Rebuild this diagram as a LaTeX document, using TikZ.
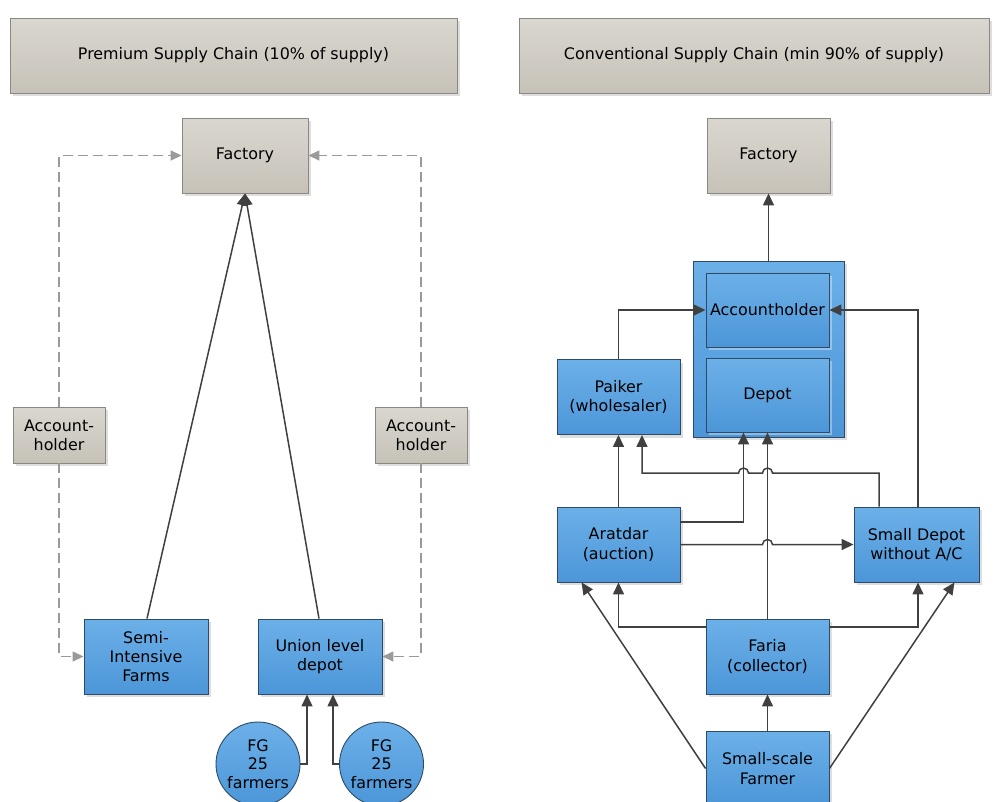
\documentclass[tikz,border=0pt]{standalone}
\usepackage{fontspec}
\setmainfont{DejaVu Sans}
\usetikzlibrary{arrows.meta,shadows,calc}
\definecolor{bluetop}{HTML}{6CB0E8}
\definecolor{bluebot}{HTML}{4C96D8}
\definecolor{blueline}{HTML}{2E4A66}
\definecolor{graytop}{HTML}{DAD7D0}
\definecolor{graybot}{HTML}{C6C2B8}
\definecolor{grayline}{HTML}{8A8882}
\definecolor{conn}{HTML}{404040}
\definecolor{dashc}{HTML}{9A9A9A}
\begin{document}
\begin{tikzpicture}[x=1pt,y=-1pt,
  shad/.style={drop shadow={shadow xshift=3pt,shadow yshift=-3pt,fill=black!13,opacity=1}},
  ishad/.style={drop shadow={shadow xshift=3pt,shadow yshift=-3pt,fill=white,opacity=0.35}},
  txt/.style={font=\fontsize{15.9}{19.3}\selectfont,align=center,text=black},
  bluebox/.style={txt,draw=blueline,line width=0.9pt,top color=bluetop,bottom color=bluebot,
    minimum width=123pt,minimum height=75pt,inner sep=0pt,shad},
  innerbox/.style={txt,draw=blueline,line width=0.9pt,top color=bluetop,bottom color=bluebot,
    minimum width=123pt,minimum height=74pt,inner sep=0pt,ishad},
  graybox/.style={txt,draw=grayline,line width=0.9pt,top color=graytop,bottom color=graybot,
    inner sep=0pt,shad},
  fgcirc/.style={txt,circle,draw=blueline,line width=0.9pt,top color=bluetop,bottom color=bluebot,
    minimum size=84pt,inner sep=0pt,font=\fontsize{15.9}{18.3}\selectfont},
  arr/.style={draw=conn,line width=1.5pt,-{Triangle[length=12pt,width=11pt]},fill=none},
  darr/.style={draw=dashc,line width=1.5pt,dash pattern=on 10pt off 5pt,-{Triangle[length=11pt,width=10pt]}},
]
\useasboundingbox (0,0) rectangle (993,801);

% headers
\node[graybox,minimum width=447pt,minimum height=75pt] (hL) at (233.5,55.5) {Premium Supply Chain (10\% of supply)};
\node[graybox,minimum width=470pt,minimum height=75pt] (hR) at (754,55.5) {Conventional Supply Chain (min 90\% of supply)};

% left side
\node[graybox,minimum width=126pt,minimum height=75pt] (facL) at (245,155.5) {Factory};
\node[graybox,minimum width=92pt,minimum height=56pt] (accL) at (59,435) {Account-\\holder};
\node[graybox,minimum width=92pt,minimum height=56pt] (accR) at (421,435) {Account-\\holder};
\node[bluebox,minimum width=124pt] (semi) at (146,656.5) {Semi-\\Intensive\\Farms};
\node[bluebox,minimum width=124pt] (union) at (320,656.5) {Union level\\depot};
\node[fgcirc] (fg1) at (258,764) {FG\\25\\farmers};
\node[fgcirc] (fg2) at (381.5,764) {FG\\25\\farmers};

\draw[darr] (accL.north) |- (facL.west);
\draw[darr] (accL.south) |- (semi.west);
\draw[darr] (accR.north) |- (facL.east);
\draw[darr] (accR.south) |- (union.east);
\draw[arr] ([xshift=1pt]semi.north) -- (facL.south);
\draw[arr] ([xshift=-1pt]union.north) -- (facL.south);
\draw[arr] (fg1.east) -| ([xshift=-13pt]union.south);
\draw[arr] (fg2.west) -| ([xshift=13pt]union.south);

% right side
\node[graybox,minimum width=123pt,minimum height=75pt] (facR) at (768.5,155.5) {Factory};
\node[draw=blueline,line width=0.9pt,top color=bluetop,bottom color=bluebot,
      minimum width=151pt,minimum height=176pt,inner sep=0pt,shad] (grp) at (768.5,349) {};
\node[innerbox] (acc) at (767.5,310) {Accountholder};
\node[innerbox] (depot) at (767.5,395) {Depot};
\node[bluebox] (paik) at (618.5,397) {Paiker\\(wholesaler)};
\node[bluebox] (arat) at (618.5,544.5) {Aratdar\\(auction)};
\node[bluebox,minimum width=125pt] (sd) at (916.5,544.5) {Small Depot\\without A/C};
\node[bluebox] (faria) at (767.5,656.5) {Faria\\(collector)};
\node[bluebox] (farmer) at (767.5,768.5) {Small-scale\\Farmer};

\coordinate (b1) at (879,473);
\coordinate (b2) at (642,473);
\coordinate (h1) at (faria.north |- arat.east);

\draw[arr] (grp.north) -- (grp.north |- facR.south);
\draw[arr] (paik.north) |- (acc.west);
\draw[arr] ([xshift=1.5pt]sd.north) |- (acc.east);
\draw[arr] (arat.north) -- (paik.south);
\draw[arr] (sd.north -| b1) -- (b1) -- (772.5,473) arc[start angle=0,end angle=180,radius=5pt]
   -- (748.5,473) arc[start angle=0,end angle=180,radius=5pt] -- (b2) -- (paik.south -| b2);
\draw[arr] ([yshift=22.5pt]arat.east) -| ([xshift=-24pt]depot.south);
\draw[arr] (faria.north) -- (depot.south);
\draw[arr] (arat.east) -- ([xshift=-5pt]h1) arc[start angle=180,end angle=0,radius=5pt] -- (sd.west);
\draw[arr] ([yshift=29.5pt]faria.west) -| (arat.south);
\draw[arr] ([yshift=29.5pt]faria.east) -| ([xshift=1.5pt]sd.south);
\draw[arr] (farmer.north) -- (faria.south);
\draw[arr] (farmer.west) -- ([xshift=25pt]arat.south west);
\draw[arr] (farmer.east) -- ([xshift=-25pt]sd.south east);
\end{tikzpicture}
\end{document}
